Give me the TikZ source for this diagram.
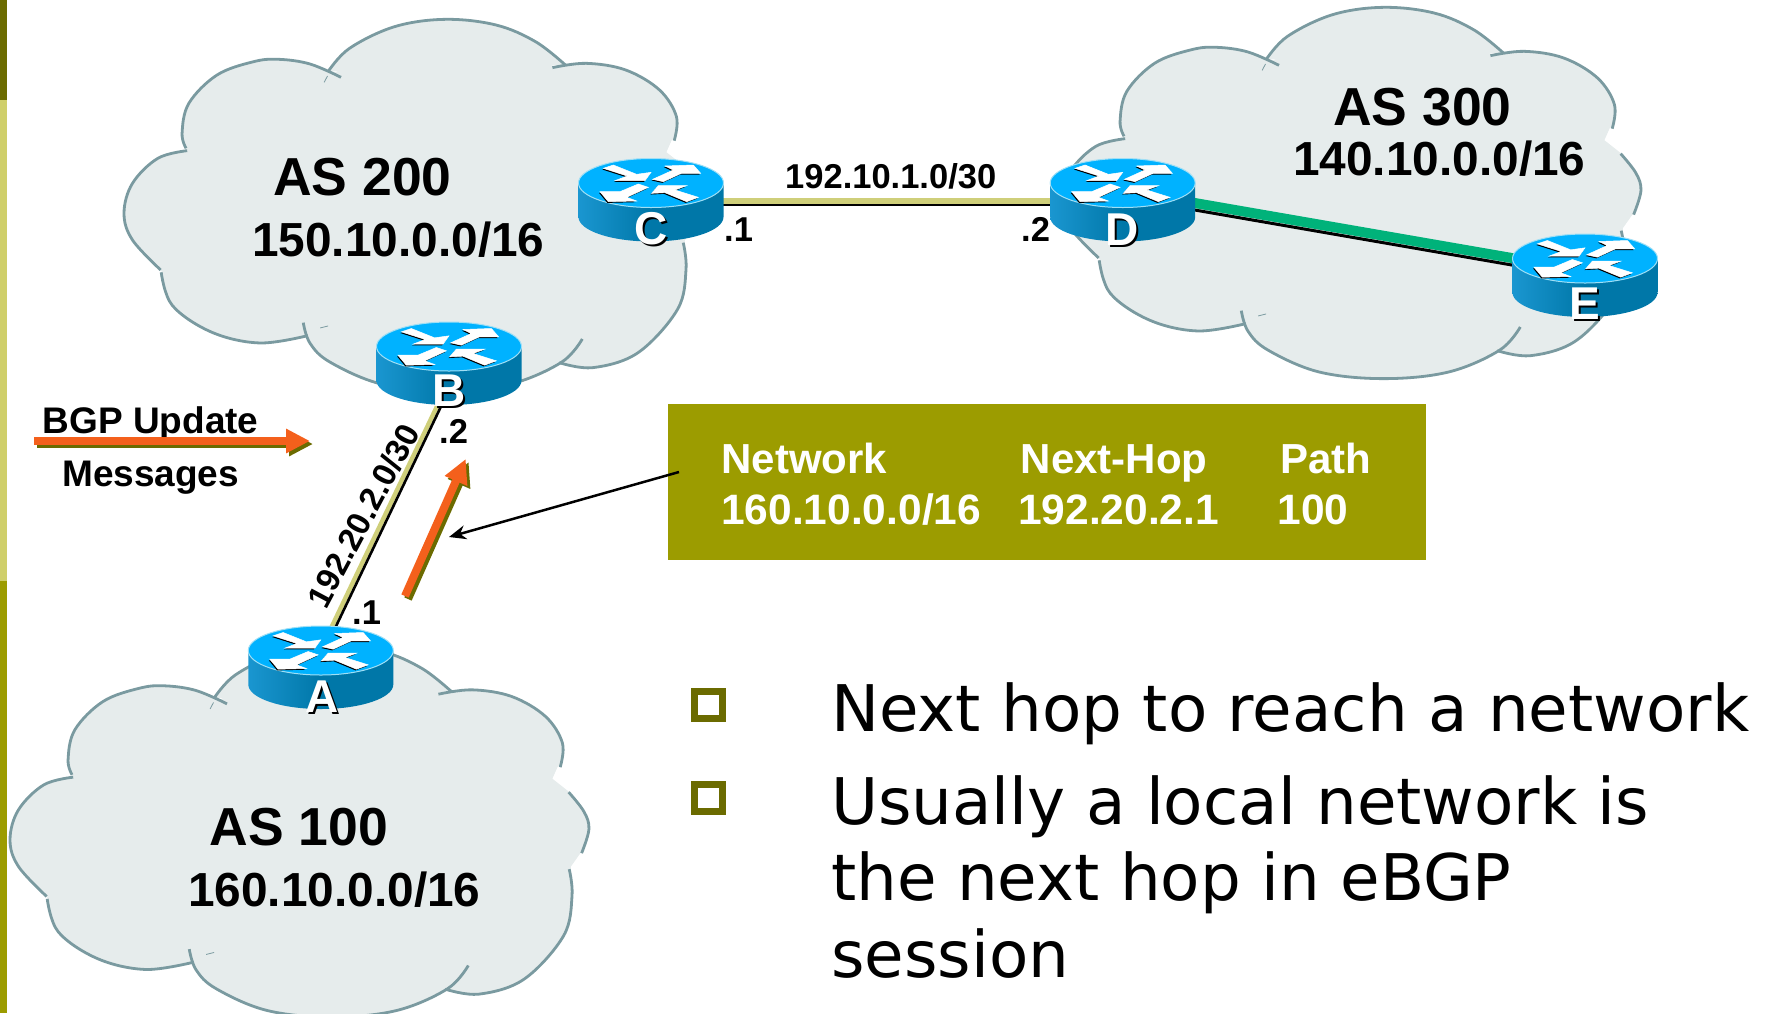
\documentclass[tikz,border=0pt]{standalone}
\usepackage{fontspec}
\setmainfont{Liberation Sans}
\newfontfamily\dvfont{DejaVu Sans}
\usetikzlibrary{arrows.meta,calc}
\definecolor{cloudfill}{HTML}{E6ECEC}
\definecolor{cloudline}{HTML}{7A9AA0}
\definecolor{olive}{HTML}{9C9C00}
\definecolor{darkolive}{HTML}{6B6B00}
\definecolor{lightolive}{HTML}{CFCF6A}
\definecolor{khaki}{HTML}{CFCF7A}
\definecolor{upd}{HTML}{F4601C}
\definecolor{linkgreen}{HTML}{00B27A}
\definecolor{rtop}{HTML}{00B2FF}
\definecolor{rrim}{HTML}{A0DFF5}
\definecolor{rsideL}{HTML}{1A96D0}
\definecolor{rsideR}{HTML}{0077A8}
\newcommand\fsz[1]{\fontsize{#1}{#1}\selectfont}
\tikzset{
  lbl/.style={inner sep=0pt,anchor=base west},
  big/.style={lbl,font=\bfseries\fsz{53.5}},
  net/.style={lbl,font=\bfseries\fsz{47.8}},
  small/.style={lbl,font=\bfseries\fsz{34.5}},
  upt/.style={lbl,font=\bfseries\fsz{37}},
  tab/.style={lbl,font=\bfseries\fsz{42},text=white},
  tabnum/.style={lbl,font=\bfseries\fsz{42.5},text=white},
  bul/.style={lbl,font=\dvfont\fsz{64.3}},
  rname/.style={inner sep=0pt,anchor=base,font=\bfseries\fsz{46}},
  bulletbox/.style={draw=darkolive,line width=7pt},
  updarrow/.style={line width=8pt,-{Triangle[length=24pt,width=23pt]}},
}
\newcommand\lobes[1]{%
  \path[#1] plot[smooth,tension=.6] coordinates {(330,445) (323,400) (335,310) (385,225) (450,185) (495,178) (550,192) (605,232)};
  \path[#1] plot[smooth,tension=.6] coordinates {(582,215) (620,145) (700,80) (790,58) (880,75) (950,125) (1003,195)};
  \path[#1] plot[smooth,tension=.6] coordinates {(980,203) (1040,190) (1110,210) (1170,270) (1200,350) (1196,422)};
  \path[#1] plot[smooth,tension=.6] coordinates {(1211,497) (1238,555) (1247,608) (1234,680)};
  \path[#1] plot[smooth,tension=.6] coordinates {(1212,728) (1217,808) (1202,928) (1132,1058) (1052,1103) (992,1088)};
  \path[#1] plot[smooth,tension=.6] coordinates {(1033,1017) (996,1087) (906,1152) (791,1172) (676,1152) (586,1087) (550,1030) (538,968)};
  \path[#1] plot[smooth,tension=.6] coordinates {(546,1007) (461,1029) (376,997) (306,917) (286,817)};
  \path[#1] plot[smooth,tension=.6] coordinates {(285,810) (235,720) (220,640) (235,550) (280,475) (332,452)};
}
\newcommand\ascloud[1]{%
  \begin{scope}[shift={#1},x=0.5637pt,y=-0.3333pt]
    \lobes{fill=cloudfill}
    \filldraw[cloudfill,line width=1pt] (450,190)--(590,222)--(790,70)--(990,205)--(1110,215)--(1196,400)--(1181,457)--(1211,497)--(1240,600)--(1232,677)--(1214,720)--(1215,808)--(1130,1050)--(1050,1095)--(1010,1075)--(906,1145)--(791,1165)--(676,1145)--(550,1010)--(461,1022)--(376,990)--(306,910)--(288,815)--(235,720)--(225,640)--(240,550)--(330,450)--(340,310)--cycle;
    \lobes{draw=cloudline,line width=2.8pt}
    \draw[cloudline,line width=.8pt] (575,247)--(581,228) (568,984)--(582,978);
  \end{scope}}
\newcommand\arrowicons{%
  (100,85)--(130,75)--(200,103)--(243,97)--(225,122)--(135,122)--(172,108)--cycle
  (248,118)--(310,90)--(285,78)--(370,75)--(392,100)--(320,100)--(345,95)--(280,125)--cycle
  (205,132)--(235,142)--(170,172)--(200,183)--(115,185)--(90,155)--(150,155)--cycle
  (385,172)--(350,185)--(285,158)--(245,160)--(265,137)--(350,137)--(315,150)--cycle}
\newcommand\router[1]{%
  \begin{scope}[shift={(#1)}]
    \path[left color=rsideL,right color=rsideR,middle color=rsideR]
      (-72.5,-17) -- (-72.5,17) arc (180:360:72.5pt and 24.5pt) -- (72.5,-17) -- cycle;
    \draw[rrim,fill=rtop,line width=1pt] (0,-17) ellipse [x radius=72.5pt,y radius=24.5pt];
    \begin{scope}[shift={(-81pt,43pt)},yshift=17pt,x=0.3333pt,y=-0.3333pt]
      \fill[black,shift={(-1pt,-1.2pt)}] \arrowicons;
      \filldraw[white,line width=.5pt] \arrowicons;
    \end{scope}
  \end{scope}}
\newcommand\rlabel[4]{% name, x, baseline y, letter
  \node[rname,text=black] (#1s) at (#2+2,#3+2) {#4};
  \node[rname,text=white] (#1) at (#2,#3) {#4};}
\begin{document}
\begin{tikzpicture}[x=1pt,y=-1pt]
\useasboundingbox (0,0) rectangle (1767,1013);
% left bars
\fill[darkolive] (0,0) rectangle (7,100);
\fill[lightolive] (0,100) rectangle (7,581);
\fill[olive] (0,581) rectangle (7,1013);
% clouds
\ascloud{(0pt,0pt)}
\ascloud{(938pt,12pt)}
\ascloud{(-114pt,-626.5pt)}
% router positions
\coordinate (rA) at (320.8,667.5);
\coordinate (rB) at (449,363.5);
\coordinate (rC) at (651,200);
\coordinate (rD) at (1122.7,200);
\coordinate (rE) at (1585,275.5);
% links
\draw[khaki,line width=5.5pt] ($(rC)+(0,1)$) -- ($(rD)+(0,1)$);
\draw[black,line width=2.6pt] ($(rC)+(0,5)$) -- ($(rD)+(0,5)$);
\draw[linkgreen,line width=10pt] ($(rD)+(0,-9.5)$) -- ($(rE)+(0,-4.8)$);
\draw[black,line width=3pt] ($(rD)+(0,-2.5)$) -- ($(rE)+(0,2.2)$);
\draw[khaki,line width=4.5pt] ($(rB)+(8.5,0)$) -- ($(rA)+(-8.5,0)$);
\draw[black,line width=2.6pt] ($(rB)+(12.5,0)$) -- ($(rA)+(-4.5,0)$);
% routers
\router{rA}\router{rB}\router{rC}\router{rD}\router{rE}
\rlabel{A}{321.7}{712}{A}
\rlabel{B}{449.5}{406}{B}
\rlabel{C}{651}{244}{C}
\rlabel{D}{1122}{245}{D}
\rlabel{E}{1585}{319}{E}
% cloud labels
\node[big] (as200) at (273,195) {AS 200};
\node[net] (n200) at (252,256) {150.10.0.0/16};
\node[big] (as300) at (1333,125) {AS 300};
\node[net] (n300) at (1293,175) {140.10.0.0/16};
\node[big] (as100) at (209.5,845) {AS 100};
\node[net] (n100) at (188,906) {160.10.0.0/16};
% link labels
\node[small] (lcd) at (785,188) {192.10.1.0/30};
\node[small] (lc1) at (724,241) {.1};
\node[small] (ld2) at (1021,241) {.2};
\node[small] (lb2) at (439,443) {.2};
\node[small] (la1) at (352,624) {.1};
\node[anchor=base,inner sep=0pt,rotate=62,font=\bfseries\fsz{33}] (lab) at (373.5,521) {192.20.2.0/30};
% update legend
\node[upt] (u1) at (42.5,433) {BGP Update};
\node[upt] (u2) at (62,486) {Messages};
\coordinate (h1) at (34,441);
\coordinate (h2) at (310,441);
\coordinate (v1) at (405,596);
\coordinate (v2) at (465.7,459);
\draw[updarrow,darkolive] ($(h1)+(3,3)$) -- ($(h2)+(3,3)$);
\draw[updarrow,upd] (h1) -- (h2);
\draw[updarrow,darkolive] ($(v1)+(3,3)$) -- ($(v2)+(3,3)$);
\draw[updarrow,upd] (v1) -- (v2);
% table
\fill[olive] (668,404) rectangle (1426,560);
\node[tab] (t1) at (721.2,473) {Network};
\node[tab] (t2) at (1020.5,473) {Next-Hop};
\node[tab] (t3) at (1280,473) {Path};
\node[tabnum] (t4) at (721,524) {160.10.0.0/16};
\node[tabnum] (t5) at (1018,524) {192.20.2.1};
\node[tabnum] (t6) at (1277.5,524) {100};
\coordinate (cs) at (679,472);
\coordinate (ce) at (449,537);
\draw[black,line width=2.5pt,-{Stealth[length=17pt,width=14pt]}] (cs) -- (ce);
% bullets
\draw[bulletbox] (694.5,691.5) rectangle (722.5,718.5);
\draw[bulletbox] (694.5,784.5) rectangle (722.5,811.5);
\node[bul] (b1) at (831,731) {Next hop to reach a network};
\node[bul] (b2) at (831,824) {Usually a local network is};
\node[bul] (b3) at (831,900) {the next hop in eBGP};
\node[bul] (b4) at (831,977) {session};
\end{tikzpicture}
\end{document}
